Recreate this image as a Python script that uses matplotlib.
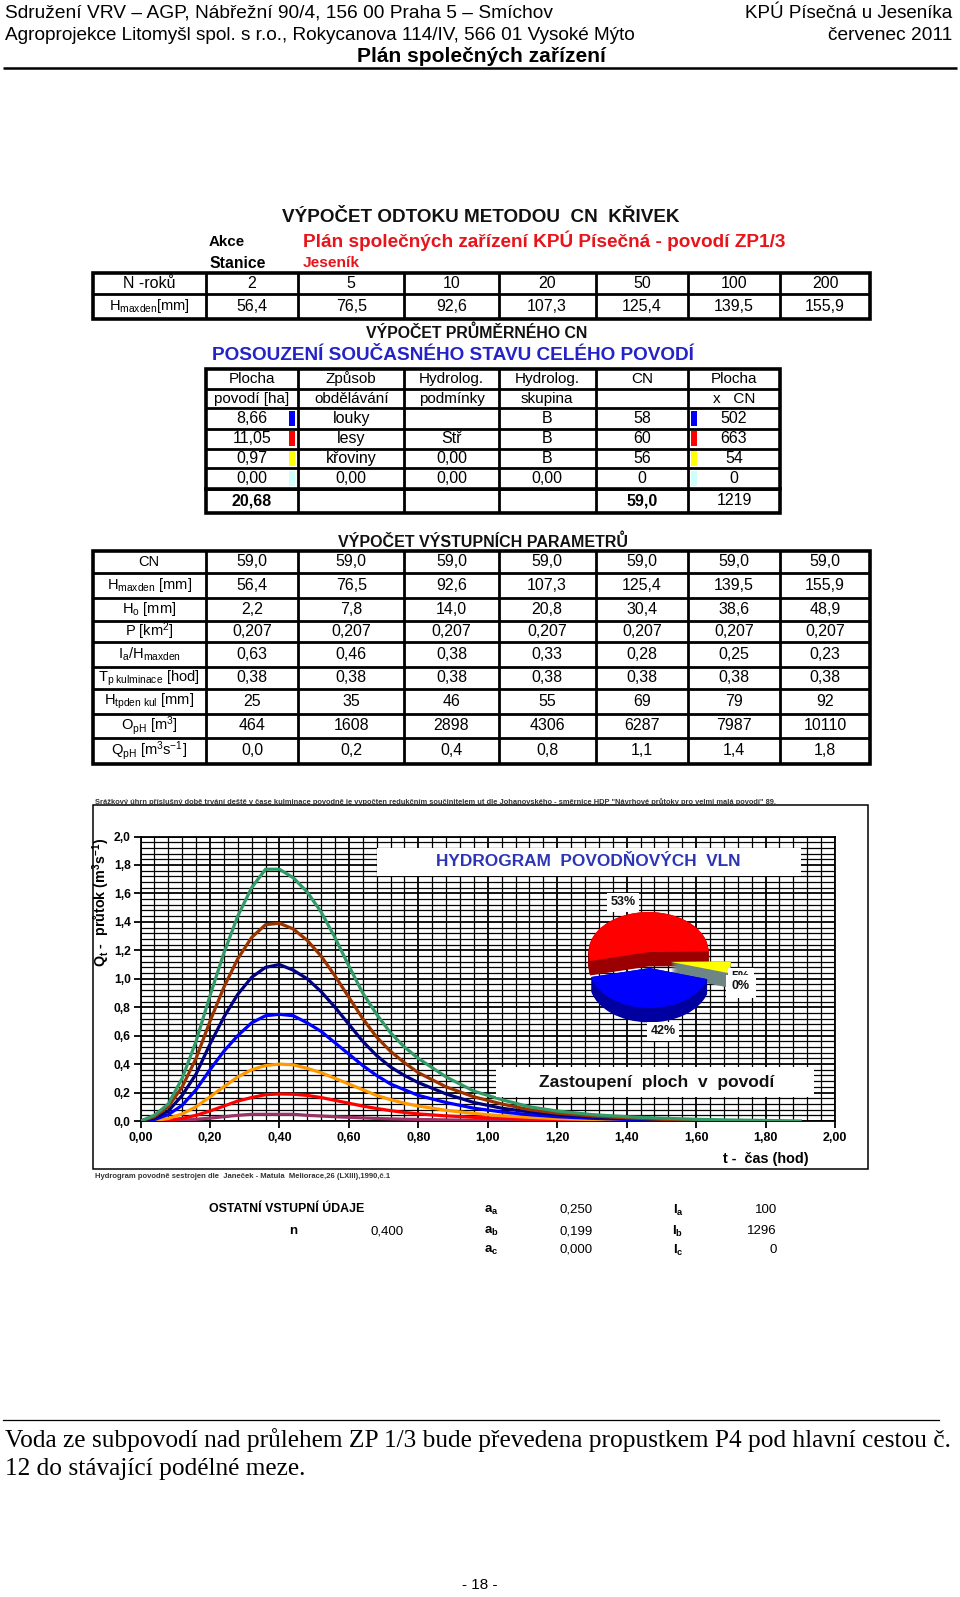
import numpy as np
import matplotlib
matplotlib.use("Agg")
import matplotlib.pyplot as plt
import matplotlib.font_manager as fm
from matplotlib.patches import Rectangle
from matplotlib.ticker import MultipleLocator, FuncFormatter

_names = {f.name for f in fm.fontManager.ttflist}
SANS = "Liberation Sans" if "Liberation Sans" in _names else "DejaVu Sans"
SERIF = "Liberation Serif" if "Liberation Serif" in _names else "DejaVu Serif"

plt.rcParams["font.family"] = [SANS, "DejaVu Sans"]
plt.rcParams["mathtext.fontset"] = "custom"
plt.rcParams["mathtext.rm"] = SANS
plt.rcParams["mathtext.it"] = SANS + ":italic"
plt.rcParams["mathtext.bf"] = SANS + ":bold"

# ---------------- data ----------------
return_periods = [2, 5, 10, 20, 50, 100, 200]
h_maxden_mm = [56.4, 76.5, 92.6, 107.3, 125.4, 139.5, 155.9]

plocha_ha = [8.66, 11.05, 0.97, 0.00]
zpusob_obdelavani = ["louky", "lesy", "křoviny", "0,00"]
hydrolog_podminky = ["", "Stř", "0,00", "0,00"]
hydrolog_skupina = ["B", "B", "B", "0,00"]
cn_land = [58, 60, 56, 0]
plocha_x_cn = [502, 663, 54, 0]
land_colors = ["#0000FF", "#FF0000", "#FFFF00", "#CCFFFF"]
land_side_colors = ["#0000A0", "#9A0000", "#6E8585", "#99CCCC"]
plocha_total_ha = 20.68
cn_average = 59.0
plocha_x_cn_total = 1219

cn_row = [59.0, 59.0, 59.0, 59.0, 59.0, 59.0, 59.0]
h_o_mm = [2.2, 7.8, 14.0, 20.8, 30.4, 38.6, 48.9]
p_km2 = [0.207, 0.207, 0.207, 0.207, 0.207, 0.207, 0.207]
ia_ratio = [0.63, 0.46, 0.38, 0.33, 0.28, 0.25, 0.23]
tp_kulminace = [0.38, 0.38, 0.38, 0.38, 0.38, 0.38, 0.38]
h_tpden_mm = [25, 35, 46, 55, 69, 79, 92]
o_ph_m3 = [464, 1608, 2898, 4306, 6287, 7987, 10110]
q_ph = [0.0, 0.2, 0.4, 0.8, 1.1, 1.4, 1.8]

n_exponent = 0.400
a_coef = [0.250, 0.199, 0.000]
i_coef = [100, 1296, 0]

nan = np.nan
t_hod = [0.00, 0.04, 0.08, 0.12, 0.16, 0.20, 0.24, 0.28, 0.32, 0.36, 0.40,
         0.44, 0.48, 0.52, 0.56, 0.60, 0.64, 0.68, 0.72, 0.76, 0.80, 0.88,
         0.96, 1.04, 1.12, 1.20, 1.30, 1.40, 1.50, 1.60, 1.70, 1.80, 1.90]
q_n2 = [0, 0, 0, 0.005, 0.012, 0.02, 0.03, 0.04, 0.047, 0.047, 0.047,
        0.047, 0.04, 0.035, 0.03, 0.026, 0.022, 0.018, 0.015, 0.013, 0.011, 0.008,
        0.005, 0.003, 0.002, 0.0, nan, nan, nan, nan, nan, nan, nan]
q_n5 = [0, 0.0, 0.006, 0.018, 0.04, 0.07, 0.105, 0.14, 0.165, 0.185, 0.19,
        0.188, 0.18, 0.165, 0.145, 0.125, 0.105, 0.088, 0.073, 0.06, 0.05, 0.036,
        0.026, 0.018, 0.012, 0.008, 0.004, 0.0, nan, nan, nan, nan, nan]
q_n10 = [0, 0.003, 0.018, 0.05, 0.10, 0.17, 0.24, 0.31, 0.36, 0.39, 0.40,
         0.395, 0.37, 0.34, 0.30, 0.26, 0.22, 0.18, 0.15, 0.125, 0.105, 0.075,
         0.053, 0.037, 0.026, 0.017, 0.01, 0.005, 0.0, nan, nan, nan, nan]
q_n20 = [0, 0.01, 0.045, 0.11, 0.22, 0.36, 0.49, 0.60, 0.69, 0.74, 0.75,
         0.74, 0.69, 0.63, 0.55, 0.47, 0.39, 0.32, 0.26, 0.22, 0.18, 0.13,
         0.09, 0.064, 0.044, 0.03, 0.019, 0.011, 0.005, 0.0, nan, nan, nan]
q_n50 = [0, 0.02, 0.07, 0.18, 0.33, 0.54, 0.73, 0.89, 1.01, 1.08, 1.10,
         1.06, 1.00, 0.91, 0.80, 0.68, 0.56, 0.46, 0.38, 0.32, 0.27, 0.19,
         0.13, 0.09, 0.064, 0.044, 0.028, 0.017, 0.008, 0.0, nan, nan, nan]
q_n100 = [0, 0.03, 0.10, 0.24, 0.44, 0.70, 0.94, 1.14, 1.29, 1.38, 1.39,
          1.35, 1.27, 1.16, 1.02, 0.87, 0.72, 0.59, 0.49, 0.41, 0.34, 0.24,
          0.17, 0.12, 0.08, 0.055, 0.035, 0.022, 0.012, 0.0, nan, nan, nan]
q_n200 = [0, 0.04, 0.12, 0.30, 0.56, 0.88, 1.18, 1.44, 1.64, 1.77, 1.77,
          1.71, 1.61, 1.47, 1.29, 1.09, 0.90, 0.75, 0.62, 0.52, 0.44, 0.31,
          0.21, 0.15, 0.10, 0.07, 0.045, 0.03, 0.02, 0.012, 0.007, 0.004, 0.0]
series_q = [q_n2, q_n5, q_n10, q_n20, q_n50, q_n100, q_n200]
series_colors = ["#993366", "#FF0000", "#FF9900", "#0000FF", "#000080", "#993300", "#339966"]


def cz(v, d):
    return f"{v:.{d}f}".replace(".", ",")


# ---------------- figure / page ----------------
W, H = 960, 1597
fig = plt.figure(figsize=(W / 100, H / 100), dpi=100)
fig.patch.set_facecolor("white")
renderer = fig.canvas.get_renderer()


def overlay(z):
    a = fig.add_axes([0, 0, 1, 1], zorder=z)
    a.set_xlim(0, W)
    a.set_ylim(H, 0)
    a.axis("off")
    a.patch.set_facecolor("none")
    return a


page = overlay(0)


def T(x, y, s, size=11, ha="center", va="center", ax=None, **kw):
    a = ax if ax is not None else page
    return a.text(x, y, s, fontsize=size, ha=ha, va=va, **kw)


def fit(t, width):
    w = t.get_window_extent(renderer).width
    t.set_fontsize(t.get_fontsize() * width / w)
    return t


# header
fit(T(5, 13, "Sdružení VRV – AGP, Nábřežní 90/4, 156 00 Praha 5 – Smíchov", 13, ha="left"), 545)
fit(T(5, 35, "Agroprojekce Litomyšl spol. s r.o., Rokycanova 114/IV, 566 01 Vysoké Mýto", 13, ha="left"), 633)
fit(T(952, 13, "KPÚ Písečná u Jeseníka", 13, ha="right"), 207)
fit(T(952, 35, "červenec 2011", 13, ha="right"), 124)
fit(T(481, 57, "Plán společných zařízení", 13, weight="bold"), 248)
page.plot([3, 957], [68, 68], color="k", lw=1.8, solid_capstyle="butt")

# title block
fit(T(481, 217, "VÝPOČET ODTOKU METODOU  CN  KŘIVEK", 14, weight="bold", color="#111111"), 397)
fit(T(209, 242, "Akce", 10, ha="left", weight="bold"), 36)
fit(T(209, 263, "Stanice", 10, ha="left", weight="bold"), 56)
fit(T(303, 241, "Plán společných zařízení KPÚ Písečná - povodí ZP1/3", 13, ha="left",
      weight="bold", color="#E8141B"), 481)
fit(T(303, 263, "Jeseník", 10, ha="left", weight="bold", color="#E8141B"), 57)

COLX = [93, 205.6, 298.3, 404.2, 498.8, 595.5, 688.2, 779.8, 870.4]
FS = 11.5


def draw_grid(xs, ys, lw=2.0, lw_out=2.6):
    for y in ys[1:-1]:
        page.plot([xs[0], xs[-1]], [y, y], color="k", lw=lw, solid_capstyle="butt")
    for x in xs[1:-1]:
        page.plot([x, x], [ys[0], ys[-1]], color="k", lw=lw, solid_capstyle="butt")
    page.add_patch(Rectangle((xs[0], ys[0]), xs[-1] - xs[0], ys[-1] - ys[0],
                             fill=False, lw=lw_out, ec="k"))


def cx(xs, i):
    return (xs[i] + xs[i + 1]) / 2


def cy(ys, i):
    return (ys[i] + ys[i + 1]) / 2


# table 1
Y1 = [272.8, 294.2, 318.6]
draw_grid(COLX, Y1)
T(cx(COLX, 0), cy(Y1, 0), "N -roků", FS)
T(cx(COLX, 0), cy(Y1, 1), r"$\mathregular{H_{maxden}}$[mm]", FS - 1)
for j, (n, h) in enumerate(zip(return_periods, h_maxden_mm)):
    T(cx(COLX, j + 1), cy(Y1, 0), str(n), FS)
    T(cx(COLX, j + 1), cy(Y1, 1), cz(h, 1), FS)

# table 2
fit(T(477, 333, "VÝPOČET PRŮMĚRNÉHO CN", 11, weight="bold", color="#111111"), 222)
fit(T(212, 356, "POSOUZENÍ SOUČASNÉHO STAVU CELÉHO POVODÍ", 13, ha="left",
      weight="bold", color="#2323C8"), 483)
X2 = COLX[1:8]
Y2 = [368.5, 388.9, 408.2, 428.6, 448.9, 468.3, 488.7, 513.1]
draw_grid(X2, Y2)
page.plot([X2[0], X2[-1]], [Y2[6], Y2[6]], color="k", lw=2.6)
hdr1 = ["Plocha", "Způsob", "Hydrolog.", "Hydrolog.", "CN", "Plocha"]
hdr2 = ["povodí [ha]", "obdělávání", "podmínky", "skupina", "", "x   CN"]
for j in range(6):
    T(cx(X2, j), cy(Y2, 0), hdr1[j], FS - 0.5)
    T(cx(X2, j), cy(Y2, 1), hdr2[j], FS - 0.5)
for i in range(4):
    r = i + 2
    T(cx(X2, 0), cy(Y2, r), cz(plocha_ha[i], 2), FS)
    T(cx(X2, 1), cy(Y2, r), zpusob_obdelavani[i], FS)
    T(cx(X2, 2), cy(Y2, r), hydrolog_podminky[i], FS)
    T(cx(X2, 3), cy(Y2, r), hydrolog_skupina[i], FS)
    T(cx(X2, 4), cy(Y2, r), str(cn_land[i]), FS)
    T(cx(X2, 5), cy(Y2, r), str(plocha_x_cn[i]), FS)
    page.add_patch(Rectangle((X2[1] - 9, Y2[r] + 2.5), 6, Y2[r + 1] - Y2[r] - 5,
                             fc=land_colors[i], ec="none"))
    page.add_patch(Rectangle((X2[5] + 2.5, Y2[r] + 2.5), 6, Y2[r + 1] - Y2[r] - 5,
                             fc=land_colors[i], ec="none"))
T(cx(X2, 0), cy(Y2, 6), cz(plocha_total_ha, 2), FS, weight="bold")
T(cx(X2, 4), cy(Y2, 6), cz(cn_average, 1), FS, weight="bold")
T(cx(X2, 5), cy(Y2, 6), str(plocha_x_cn_total), FS)

# table 3
fit(T(483, 542, "VÝPOČET VÝSTUPNÍCH PARAMETRŮ", 11, weight="bold", color="#111111"), 288)
Y3 = [550.8, 573.1, 597.6, 621, 642.4, 666.8, 689.2, 713.6, 738.1, 763.5]
draw_grid(COLX, Y3)
row_labels = ["CN", r"$\mathregular{H_{maxden}}$ [mm]", r"$\mathregular{H_o}$ [mm]",
              r"P [km$^{\mathregular{2}}$]", r"$\mathregular{I_a/H_{maxden}}$",
              r"$\mathregular{T_{p\ kulminace}}$ [hod]", r"$\mathregular{H_{tpden\ kul}}$ [mm]",
              r"$\mathregular{O_{pH}}$ [m$^{\mathregular{3}}$]",
              r"$\mathregular{Q_{pH}}$ [m$^{\mathregular{3}}$s$^{\mathregular{-1}}$]"]
row_values = [[cz(v, 1) for v in cn_row], [cz(v, 1) for v in h_maxden_mm],
              [cz(v, 1) for v in h_o_mm], [cz(v, 3) for v in p_km2],
              [cz(v, 2) for v in ia_ratio], [cz(v, 2) for v in tp_kulminace],
              [str(v) for v in h_tpden_mm], [str(v) for v in o_ph_m3],
              [cz(v, 1) for v in q_ph]]
for i, (lab, vals) in enumerate(zip(row_labels, row_values)):
    lt = T(cx(COLX, 0), cy(Y3, i), lab, FS - 1)
    w = lt.get_window_extent(renderer).width
    if w > 106:
        lt.set_fontsize(lt.get_fontsize() * 106 / w)
    for j, v in enumerate(vals):
        T(cx(COLX, j + 1), cy(Y3, i), v, FS)

# ---------------- hydrograph chart ----------------
page.add_patch(Rectangle((92.6, 805.3), 868.4 - 92.6, 1168.7 - 805.3, fill=False, lw=1.1, ec="k"))
fit(T(95, 802, 'Srážkový úhrn příslušný době trvání deště v čase kulminace povodně je vypočten '
      'redukčním součinitelem ut dle Johanovského - směrnice HDP "Návrhové průtoky pro velmi malá povodí" 89.',
      5, ha="left", weight="bold", color="#333333"), 687)
fit(T(95, 1176, "Hydrogram povodně sestrojen dle  Janeček - Matula  Meliorace,26 (LXIII),1990,č.1",
      5, ha="left", weight="bold", color="#333333"), 300)

X0, X1, YT, YB = 140.5, 835.0, 836.5, 1121.0
ax = fig.add_axes([X0 / W, 1 - YB / H, (X1 - X0) / W, (YB - YT) / H], zorder=1)
ax.set_facecolor("white")
ax.xaxis.set_major_locator(MultipleLocator(0.2))
ax.xaxis.set_minor_locator(MultipleLocator(0.04))
ax.yaxis.set_major_locator(MultipleLocator(0.2))
ax.yaxis.set_minor_locator(MultipleLocator(0.04))
ax.grid(which="major", color="k", lw=1.3)
ax.grid(which="minor", color="k", lw=0.9)
ax.set_axisbelow(True)
for sp in ax.spines.values():
    sp.set_linewidth(1.3)
ax.xaxis.set_major_formatter(FuncFormatter(lambda v, p: cz(v, 2)))
ax.yaxis.set_major_formatter(FuncFormatter(lambda v, p: cz(v, 1)))
ax.tick_params(which="major", direction="out", length=5, width=1.3, pad=3, labelsize=9)
ax.tick_params(axis="y", which="major", pad=2, labelsize=8.7)
ax.tick_params(which="minor", length=0)
for lab in ax.get_xticklabels() + ax.get_yticklabels():
    lab.set_fontweight("bold")
for q, c in zip(series_q, series_colors):
    ax.plot(t_hod, q, color=c, lw=2.3, solid_joinstyle="round", zorder=3)
ax.set_xlim(0, 2)
ax.set_ylim(0, 2)

over = overlay(2)
T(101, 902, r"$\mathregular{Q_t}$ -  průtok (m$^{\mathregular{3}}$s$^{\mathregular{-1}}$)", 10.3,
  ax=over, rotation=90, weight="bold")
fit(T(766, 1159.5, "t -  čas (hod)", 11, ax=over, weight="bold"), 86)
over.add_patch(Rectangle((377, 848), 424, 28, fc="white", ec="none"))
fit(T(588, 862, "HYDROGRAM  POVODŇOVÝCH  VLN", 12, ax=over, weight="bold", color="#2B35B5"), 304)
over.add_patch(Rectangle((496, 1067), 318, 30, fc="white", ec="none"))
fit(T(657, 1082, "Zastoupení  ploch  v  povodí", 12, ax=over, weight="bold", color="#111111"), 234)

# 3D-looking pie of land use areas
pie_order = [1, 2, 3, 0]
p_vals = [plocha_ha[i] for i in pie_order]
p_cols = [land_colors[i] for i in pie_order]
p_side = [land_side_colors[i] for i in pie_order]
p_expl = [0.2, 0.35, 0.35, 0.2]
# pie axes: centre at (650, 960) px; 60 px per x unit, 40 px per y unit
pax = fig.add_axes([560 / W, 1 - 1035 / H, 180 / W, 150 / H], zorder=3)
n_layers = 18
thick = 0.36
for k in range(n_layers):
    dy = thick * (1 - k / (n_layers - 1))
    pax.pie(p_vals, colors=p_side, explode=p_expl, startangle=193, counterclock=False,
            center=(0, -dy), wedgeprops=dict(linewidth=0))
pax.pie(p_vals, colors=p_cols, explode=p_expl, startangle=193, counterclock=False,
        wedgeprops=dict(linewidth=0))
pax.set_aspect("auto")
pax.set_xlim(-1.5, 1.5)
pax.set_ylim(-1.875, 1.875)
pax.axis("off")
pax.patch.set_facecolor("none")

lab_ax = overlay(4)
tot = sum(plocha_ha)
pct = [round(100 * v / tot) for v in plocha_ha]
box = dict(fc="white", ec="none", pad=2.5)
T(623, 902, f"{pct[1]}%", 9, ax=lab_ax, weight="bold", bbox=box, color="#111111")
T(663, 1031, f"{pct[0]}%", 9, ax=lab_ax, weight="bold", bbox=box, color="#111111")
T(741, 977, f"{pct[2]}%", 9, ax=lab_ax, weight="bold", bbox=box, color="#111111")
T(741, 986, f"{pct[3]}%", 9, ax=lab_ax, weight="bold", bbox=dict(fc="white", ec="none", pad=4),
  color="#111111")

# other inputs
fit(T(209, 1209, "OSTATNÍ VSTUPNÍ ÚDAJE", 9, ha="left", weight="bold"), 155)
T(293, 1231, "n", 9.5, weight="bold")
T(387, 1231, cz(n_exponent, 3), 9.5)
ys_in = [1210, 1231, 1250]
subs = ["a", "b", "c"]
for k in range(3):
    T(491, ys_in[k], r"$\mathregular{a_" + subs[k] + "}$", 9.5, weight="bold")
    T(576, ys_in[k], cz(a_coef[k], 3), 9.5)
    T(678, ys_in[k], r"$\mathregular{I_" + subs[k] + "}$", 9.5, weight="bold")
    T(777, ys_in[k], str(i_coef[k]), 9.5, ha="right")

# footer
page.plot([3, 939], [1420, 1420], color="k", lw=0.9)
ft = fit(T(5, 1440, "Voda ze subpovodí nad průlehem ZP 1/3 bude převedena propustkem P4 pod hlavní cestou č.",
           14, ha="left", family=[SERIF, "DejaVu Serif"]), 950)
T(5, 1469, "12 do stávající podélné meze.", ft.get_fontsize(), ha="left", family=[SERIF, "DejaVu Serif"])
T(480, 1585, "- 18 -", 11)

fig.savefig("out.png", dpi=100, facecolor="white")
